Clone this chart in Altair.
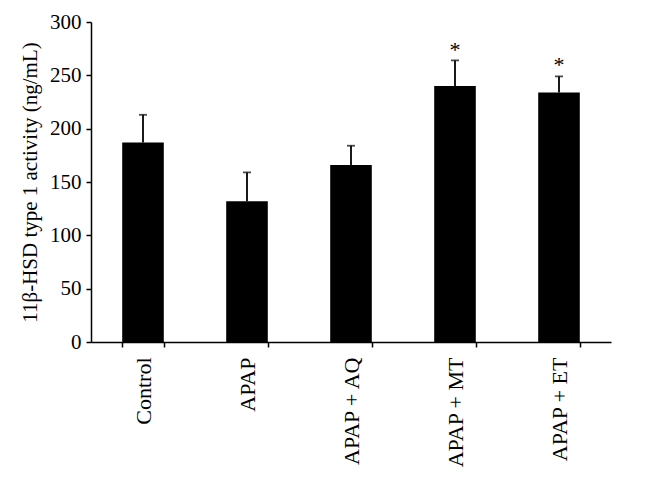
import altair as alt
import pandas as pd

groups = ["Control", "APAP", "APAP + AQ", "APAP + MT", "APAP + ET"]
means = [187, 132, 166, 240, 234]
upper = [213, 159, 184, 264, 249]
marks = ["", "", "", "*", "*"]
mark_y = [None, None, None, 278, 264]

df = pd.DataFrame({"group": groups, "mean": means, "upper": upper,
                   "sig": marks, "sig_y": mark_y})

FONT = "Liberation Serif"

x_scale = alt.Scale(paddingInner=0.6, paddingOuter=0.3)
y_scale = alt.Scale(domain=[0, 300], nice=False)

x = alt.X("group:N", sort=groups, title=None, scale=x_scale,
          axis=alt.Axis(labelAngle=270, tickBand="extent",
                        labelAlign="right", labelBaseline="middle",
                        labelPadding=10, labelFontSize=22))

bars = alt.Chart(df).mark_bar(color="black").encode(
    x=x,
    y=alt.Y("mean:Q", scale=y_scale, title="11β-HSD type 1 activity (ng/mL)",
            axis=alt.Axis(values=[0, 50, 100, 150, 200, 250, 300],
                          labelPadding=5, titlePadding=9)),
)

err = alt.Chart(df).mark_rule(color="black", strokeWidth=1.8).encode(
    x=alt.X("group:N", sort=groups),
    y=alt.Y("mean:Q"),
    y2="upper:Q",
)

caps = alt.Chart(df).mark_tick(color="black", size=8, thickness=1.8,
                               orient="horizontal").encode(
    x=alt.X("group:N", sort=groups),
    y=alt.Y("upper:Q"),
)

stars = alt.Chart(df).transform_filter("datum.sig != ''").mark_text(
    font=FONT, fontSize=22, color="black", baseline="middle", dy=5
).encode(
    x=alt.X("group:N", sort=groups),
    y=alt.Y("sig_y:Q"),
    text="sig:N",
)

chart = alt.layer(bars, err, caps, stars).properties(
    width=520, height=320,
    padding={"left": 11, "top": 3, "right": 5, "bottom": 3},
    background="white",
).configure_axis(
    grid=False,
    labelFont=FONT, labelFontSize=21, labelColor="black",
    titleFont=FONT, titleFontSize=21, titleFontWeight="normal", titleColor="black",
    tickSize=5, tickColor="black", tickWidth=1.5,
    domainColor="black", domainWidth=1.5,
).configure_view(strokeWidth=0)

chart.save("out.html", embed_options={"renderer": "svg", "actions": False})
